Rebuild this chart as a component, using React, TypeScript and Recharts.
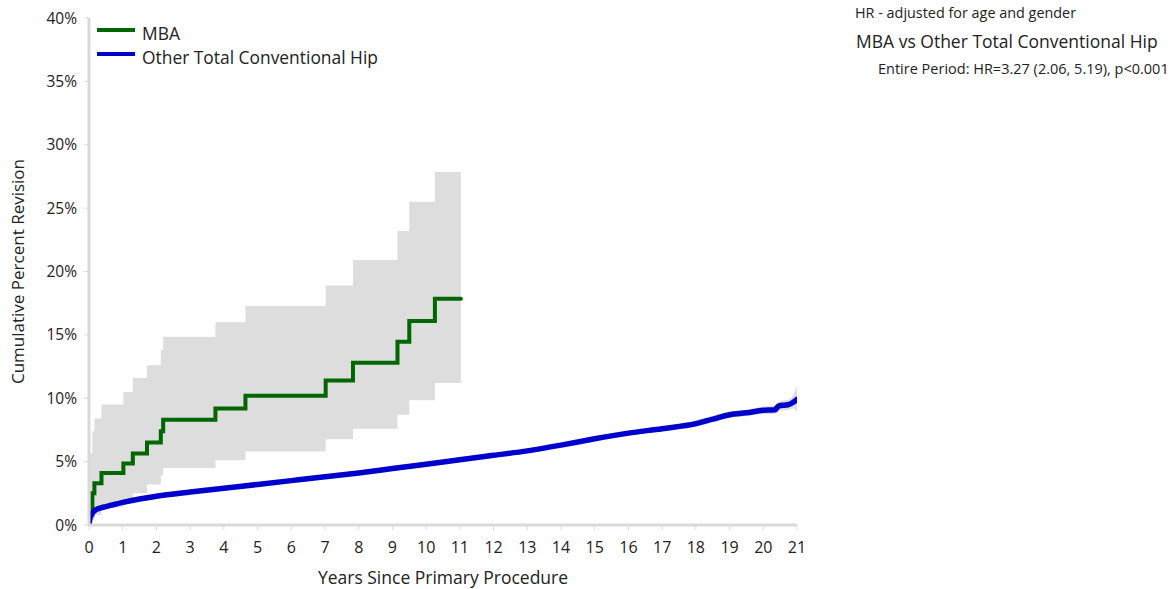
import React from 'react';
import { ComposedChart, Line, Area, XAxis, YAxis, Legend, Label } from 'recharts';

// ---- Data ----
const xTicks = [0, 1, 2, 3, 4, 5, 6, 7, 8, 9, 10, 11, 12, 13, 14, 15, 16, 17, 18, 19, 20, 21];
const yTicks = [0, 5, 10, 15, 20, 25, 30, 35, 40];

const seriesNames = ['MBA', 'Other Total Conventional Hip'];

// MBA (Kaplan-Meier step function)
const mbaTimes = [0, 0.1, 0.16, 0.37, 1.02, 1.3, 1.72, 2.13, 2.2, 3.75, 4.64, 7.02, 7.83, 9.15, 9.5, 10.26, 11.03];
const mbaRevision = [0.8, 2.5, 3.3, 4.1, 4.85, 5.65, 6.5, 7.4, 8.3, 9.2, 10.2, 11.4, 12.8, 14.45, 16.1, 17.85, 17.85];
const mbaLower = [0, 0.4, 0.8, 1.4, 1.9, 2.5, 3.2, 3.9, 4.5, 5.1, 5.8, 6.76, 7.6, 8.7, 9.85, 11.2, 11.2];
const mbaUpper = [5.65, 7.4, 8.4, 9.5, 10.5, 11.6, 12.6, 13.8, 14.85, 16.0, 17.27, 18.9, 20.9, 23.2, 25.5, 27.86, 27.86];

// Other Total Conventional Hip
const otherTimes = [0, 0.02, 0.05, 0.1, 0.2, 0.35, 0.5, 0.75, 1, 1.5, 2, 3, 4, 5, 6, 7, 8, 9, 10, 11, 12, 13, 14, 15, 16, 17, 18, 18.5, 19, 19.5, 20, 20.35, 20.45, 20.75, 20.9, 21];
const otherRevision = [0, 0.4, 0.7, 0.95, 1.2, 1.35, 1.45, 1.62, 1.78, 2.05, 2.27, 2.6, 2.9, 3.2, 3.5, 3.8, 4.1, 4.45, 4.8, 5.15, 5.5, 5.85, 6.3, 6.8, 7.25, 7.6, 8.0, 8.35, 8.7, 8.85, 9.05, 9.1, 9.38, 9.5, 9.7, 9.9];
const otherLower = [0, 0.36, 0.65, 0.9, 1.15, 1.3, 1.4, 1.57, 1.73, 2.0, 2.22, 2.55, 2.85, 3.13, 3.43, 3.73, 4.03, 4.37, 4.7, 5.05, 5.4, 5.75, 6.18, 6.66, 7.1, 7.45, 7.75, 8.1, 8.45, 8.6, 8.75, 8.78, 9.0, 9.1, 9.2, 8.9];
const otherUpper = [0, 0.44, 0.75, 1.0, 1.25, 1.4, 1.5, 1.67, 1.83, 2.1, 2.32, 2.65, 2.95, 3.27, 3.57, 3.87, 4.17, 4.53, 4.9, 5.25, 5.6, 5.95, 6.42, 6.94, 7.4, 7.75, 8.25, 8.6, 8.95, 9.1, 9.35, 9.42, 9.75, 9.9, 10.3, 10.9];

// ---- Tables built from the arrays ----
const mbaLine = mbaTimes.map((t, i) => ({ t, v: mbaRevision[i] }));
const mbaBand = mbaTimes.map((t, i) => ({ t, range: [mbaLower[i], mbaUpper[i]] }));
const otherLine = otherTimes.map((t, i) => ({ t, v: otherRevision[i] }));
const otherBand = otherTimes.map((t, i) => ({ t, range: [otherLower[i], otherUpper[i]] }));

const GREEN = '#006600';
const BLUE = '#0000cc';
const BAND = '#dddddd';
const AXIS = '#d9d9d9';
const TEXT = '#222222';
const FONT = "'Open Sans', sans-serif";

const legendColors = [GREEN, BLUE];

const LegendContent = () => (
  <div style={{ position: 'relative', width: 400, height: 70, fontFamily: FONT }}>
    {seriesNames.map((name, i) => (
      <React.Fragment key={name}>
        <div
          style={{
            position: 'absolute',
            left: 97,
            top: 27.5 + i * 24,
            width: 38,
            height: 4,
            background: legendColors[i],
          }}
        />
        <div
          style={{
            position: 'absolute',
            left: 142,
            top: 24.5 + i * 24,
            fontSize: 17.4,
            lineHeight: '17.4px',
            color: TEXT,
            whiteSpace: 'nowrap',
          }}
        >
          {name}
        </div>
      </React.Fragment>
    ))}
  </div>
);

export default function App() {
  return (
    <div style={{ position: 'absolute', left: 0, top: 0, width: 1171, height: 589, fontFamily: FONT, background: '#fff' }}>
      <ComposedChart width={1171} height={589} margin={{ top: 18, right: 374, left: 0, bottom: 0 }}>
        <XAxis
          type="number"
          dataKey="t"
          domain={[0, 21]}
          ticks={xTicks}
          interval={0}
          allowDataOverflow
          height={64}
          axisLine={{ stroke: AXIS, strokeWidth: 3 }}
          tickLine={{ stroke: AXIS }}
          tickSize={5}
          tickMargin={12}
          tick={{ fill: TEXT, fontSize: 16, fontFamily: FONT }}
        >
          <Label
            value="Years Since Primary Procedure"
            position="insideBottom"
            offset={5}
            style={{ fill: TEXT, fontSize: 17.5, fontFamily: FONT }}
          />
        </XAxis>
        <YAxis
          type="number"
          domain={[0, 40]}
          ticks={yTicks}
          interval={0}
          allowDataOverflow
          width={89}
          axisLine={{ stroke: AXIS, strokeWidth: 3 }}
          tickLine={{ stroke: AXIS }}
          tickSize={5}
          tickMargin={7}
          tickFormatter={(v) => `${v}%`}
          tick={{ fill: TEXT, fontSize: 15.5, fontFamily: FONT }}
        >
          <Label
            value="Cumulative Percent Revision"
            angle={-90}
            position="insideLeft"
            offset={18}
            style={{ fill: TEXT, fontSize: 17, fontFamily: FONT, textAnchor: 'middle' }}
          />
        </YAxis>
        <Legend
          layout="horizontal"
          verticalAlign="middle"
          align="center"
          wrapperStyle={{ left: 0, top: 0, width: 400, height: 70 }}
          content={LegendContent}
        />
        <Area
          data={mbaBand}
          dataKey="range"
          type="stepAfter"
          stroke="none"
          fill={BAND}
          fillOpacity={1}
          isAnimationActive={false}
          legendType="none"
          activeDot={false}
        />
        <Area
          data={otherBand}
          dataKey="range"
          type="monotone"
          stroke="none"
          fill={BAND}
          fillOpacity={1}
          isAnimationActive={false}
          legendType="none"
          activeDot={false}
        />
        <Line
          data={mbaLine}
          dataKey="v"
          name={seriesNames[0]}
          type="stepAfter"
          stroke={GREEN}
          strokeWidth={4}
          dot={false}
          activeDot={false}
          strokeLinecap="round"
          isAnimationActive={false}
        />
        <Line
          data={otherLine}
          dataKey="v"
          name={seriesNames[1]}
          type="monotone"
          stroke={BLUE}
          strokeWidth={5.5}
          dot={false}
          activeDot={false}
          strokeLinecap="round"
          isAnimationActive={false}
        />
      </ComposedChart>
      <div style={{ position: 'absolute', left: 855, top: 5.5, fontSize: 14.4, lineHeight: '14.4px', color: TEXT, whiteSpace: 'nowrap' }}>
        HR - adjusted for age and gender
      </div>
      <div style={{ position: 'absolute', left: 856, top: 32.8, fontSize: 17.5, lineHeight: '17.5px', color: TEXT, whiteSpace: 'nowrap' }}>
        MBA vs Other Total Conventional Hip
      </div>
      <div style={{ position: 'absolute', left: 878, top: 62, fontSize: 14.5, lineHeight: '14.5px', color: TEXT, whiteSpace: 'nowrap' }}>
        Entire Period: HR=3.27 (2.06, 5.19), p&lt;0.001
      </div>
    </div>
  );
}
